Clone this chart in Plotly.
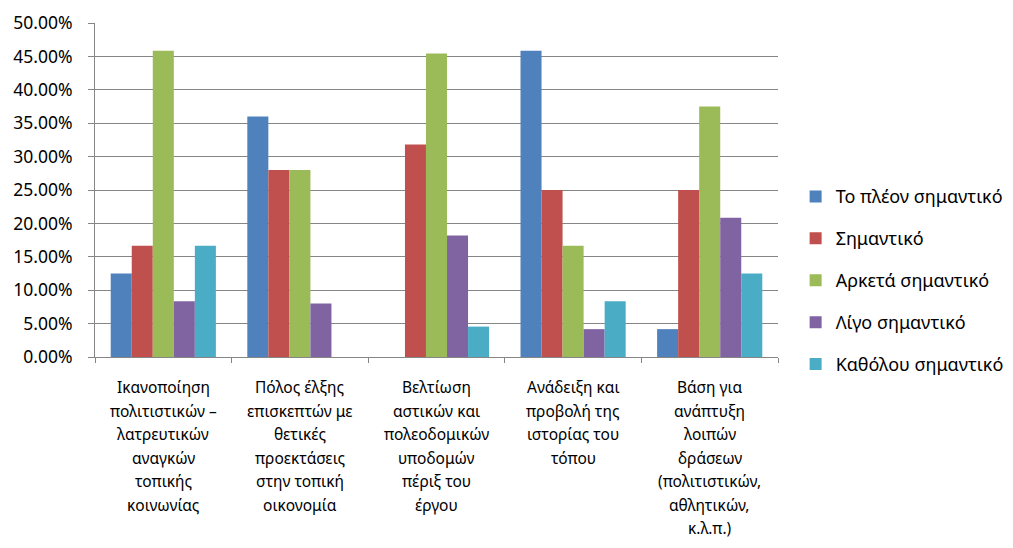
import plotly.graph_objects as go

categories = [
    "Ικανοποίηση<br>πολιτιστικών –<br>λατρευτικών<br>αναγκών<br>τοπικής<br>κοινωνίας",
    "Πόλος έλξης<br>επισκεπτών με<br>θετικές<br>προεκτάσεις<br>στην τοπική<br>οικονομία",
    "Βελτίωση<br>αστικών και<br>πολεοδομικών<br>υποδομών<br>πέριξ του<br>έργου",
    "Ανάδειξη και<br>προβολή της<br>ιστορίας του<br>τόπου",
    "Βάση για<br>ανάπτυξη<br>λοιπών<br>δράσεων<br>(πολιτιστικών,<br>αθλητικών,<br>κ.λ.π.)",
]
series_names = ["Το πλέον σημαντικό", "Σημαντικό", "Αρκετά σημαντικό",
                "Λίγο σημαντικό", "Καθόλου σημαντικό"]
most_important = [0.125, 0.36, 0.0, 0.4583, 0.0417]
important = [0.1667, 0.28, 0.3182, 0.25, 0.25]
fairly_important = [0.4583, 0.28, 0.4545, 0.1667, 0.375]
little_important = [0.0833, 0.08, 0.1818, 0.0417, 0.2083]
not_important = [0.1667, 0.0, 0.0455, 0.0833, 0.125]
series_values = [most_important, important, fairly_important,
                 little_important, not_important]
colors = ["#4F81BD", "#C0504D", "#9BBB59", "#8064A2", "#4BACC6"]

FONT = "Noto Sans"
GRID = "#868686"

fig = go.Figure()
for name, vals, col in zip(series_names, series_values, colors):
    fig.add_trace(go.Bar(x=categories, y=vals, name=name, legendgroup=name,
                         marker=dict(color=col, line=dict(width=0)),
                         hovertemplate="%{y:.2%}<extra>" + name + "</extra>"))

# category labels: one annotation per line so the line spacing matches
for cat in categories:
    for i, line in enumerate(cat.split("<br>")):
        fig.add_annotation(x=cat, xref="x", y=0, yref="paper", text=line,
                           showarrow=False, xanchor="center", yanchor="middle",
                           yshift=-(30 + i * 23.5),
                           font=dict(family=FONT, size=15.5, color="#000000"))

# the page body adds an 8px margin; keep the figure small enough that no
# scrollbars appear in the 1013x548 window
fig.update_layout(
    width=997, height=532,
    margin=dict(l=87, r=227, t=15, b=183),
    paper_bgcolor="white", plot_bgcolor="white",
    barmode="group", bargap=0.23, bargroupgap=0,
    font=dict(family=FONT, size=15, color="#000000"),
    showlegend=True,
    legend=dict(xref="container", yref="container", x=0.790, y=0.680,
                xanchor="left", yanchor="top",
                font=dict(family=FONT, size=18, color="#000000"),
                tracegroupgap=15.5, itemclick=False),
    xaxis=dict(showline=True, linecolor=GRID, linewidth=1, automargin=False,
               ticks="outside", tickson="boundaries", ticklen=5, tickcolor=GRID,
               showticklabels=False, showgrid=False),
    yaxis=dict(range=[0, 0.5], dtick=0.05, tickformat=".2%", automargin=False,
               showline=True, linecolor=GRID, linewidth=1,
               ticks="outside", ticklen=6, tickcolor=GRID, ticklabelstandoff=12,
               showgrid=True, gridcolor=GRID, gridwidth=1, zeroline=False,
               tickfont=dict(family=FONT, size=17.5)),
)

fig.write_html("out.html")
